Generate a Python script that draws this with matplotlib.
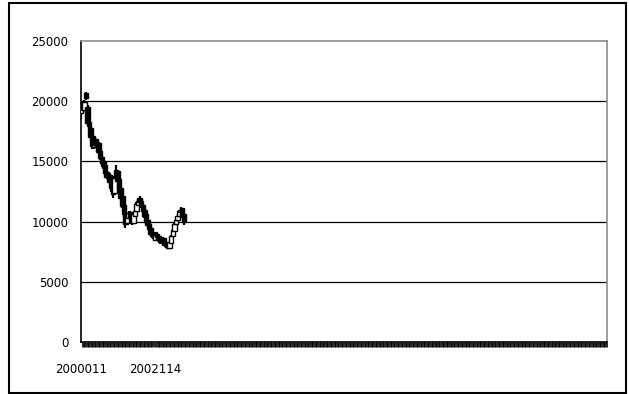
import matplotlib
matplotlib.use("Agg")
import matplotlib.pyplot as plt
from matplotlib.patches import Rectangle
from matplotlib.ticker import MultipleLocator, FixedLocator

plt.rcParams['font.family'] = ['DejaVu Sans']

# weekly category axis
n_categories = 1000
tick_labels = ["2000011", "2002114"]
tick_pos = [0, 141]

week = [0, 3, 6, 9, 12, 15, 18, 21, 24, 27, 30, 33, 36, 39, 42, 45, 48, 51, 54, 57,
        60, 63, 66, 69, 72, 75, 78, 81, 84, 87, 90, 93, 96, 99, 102, 105, 108, 111, 114, 117,
        120, 123, 126, 129, 132, 135, 138, 141, 144, 147, 150, 153, 156, 159, 162, 165, 168, 171, 174, 177,
        180, 183, 186, 189, 192, 195]

open_ = [19000, 19900, 19300, 20700, 19500, 18300, 17800, 17100, 16200, 16900, 16300, 16500, 15900, 15400, 15000, 14700, 14100, 13600, 13900, 13400,
         12900, 12400, 13700, 14200, 13500, 12800, 12100, 11400, 10700, 9900, 10300, 10800, 10200, 9900, 10500, 10900, 11400, 12000, 11700, 11400,
         11000, 10600, 10100, 9800, 9500, 9100, 8900, 8500, 9000, 8800, 8600, 8300, 8600, 8300, 8200, 8100, 7800, 8200, 8800, 9200,
         9800, 10100, 10500, 10800, 11100, 10600]
close = [19800, 19300, 19900, 20300, 18200, 17900, 17000, 16300, 16900, 16400, 16600, 15800, 15300, 14900, 14600, 14000, 13700, 13900, 13300, 12800,
         12300, 13600, 14300, 13400, 12700, 12000, 11300, 10600, 9800, 10400, 10700, 10300, 9900, 10600, 10900, 11500, 11700, 11600, 11300, 10900,
         10500, 10000, 9700, 9400, 9000, 8800, 8600, 8900, 8700, 8500, 8300, 8500, 8200, 8100, 8000, 7800, 8300, 8800, 9300, 9800,
         10100, 10500, 10900, 11000, 10500, 10000]
high = [19900, 20000, 20100, 20800, 19700, 18500, 17900, 17300, 17100, 17000, 16800, 16600, 16000, 15500, 15100, 14800, 14200, 14000, 14000, 13500,
        13000, 13800, 14700, 14300, 13600, 12900, 12200, 11500, 10800, 10500, 10900, 10900, 10300, 10700, 11000, 11600, 11900, 12100, 11800, 11500,
        11100, 10700, 10200, 9900, 9600, 9200, 9000, 9000, 9100, 8900, 8700, 8600, 8700, 8400, 8300, 8200, 8400, 8900, 9400, 9900,
        10200, 10600, 11000, 11200, 11100, 10700]
low = [18500, 19100, 19200, 20100, 18000, 17700, 16800, 16000, 16000, 16200, 16100, 15600, 15100, 14700, 14400, 13800, 13500, 13400, 13100, 12500,
       12000, 12300, 13600, 13200, 12500, 11800, 11100, 10300, 9500, 9700, 10200, 10100, 9700, 9800, 10400, 10800, 11300, 11400, 11100, 10700,
       10300, 9800, 9500, 9200, 8800, 8600, 8400, 8400, 8500, 8300, 8100, 8200, 8000, 7900, 7800, 7700, 7700, 8100, 8700, 9100,
       9700, 10000, 10400, 10700, 10300, 9700]

y_max = 25000
y_step = 5000
body_width = 8.5

fig = plt.figure(figsize=(6.29, 3.94), dpi=100)
W, H = 629, 394

# chart-area frame
fig.add_artist(Rectangle((9 / W, 1 - 393 / H), 617 / W, 390 / H, transform=fig.transFigure,
                         fill=False, edgecolor='black', linewidth=1.5))

ax = fig.add_axes([81 / W, 1 - 342 / H, 526 / W, 301 / H])
ax.set_xlim(-0.5, n_categories - 0.5)
ax.set_ylim(0, y_max)

for v in range(y_step, y_max, y_step):
    ax.axhline(v, color='black', linewidth=0.9, zorder=1)

# high-low wicks
ax.vlines(week, low, high, color='black', linewidth=1.6, zorder=2)
# up/down bodies
for x, o, c in zip(week, open_, close):
    face = 'white' if c > o else 'black'
    ax.add_patch(Rectangle((x - body_width / 2, min(o, c)), body_width, abs(c - o),
                           facecolor=face, edgecolor='black', linewidth=1.0, zorder=3))

for side in ('top', 'right'):
    ax.spines[side].set_color('#8c8c8c')
    ax.spines[side].set_linewidth(1.2)
for side in ('left', 'bottom'):
    ax.spines[side].set_color('black')
    ax.spines[side].set_linewidth(1.2)

ax.yaxis.set_major_locator(MultipleLocator(y_step))
ax.tick_params(axis='y', length=0, pad=9, labelsize=8.5)

ax.xaxis.set_major_locator(FixedLocator(tick_pos))
ax.set_xticklabels(tick_labels)
ax.xaxis.set_minor_locator(MultipleLocator(1.5))
ax.tick_params(axis='x', which='major', length=0, pad=15, labelsize=8.5)
ax.tick_params(axis='x', which='minor', length=3.5, width=0.6, direction='out', color='black')

fig.savefig('out.png', dpi=100)
